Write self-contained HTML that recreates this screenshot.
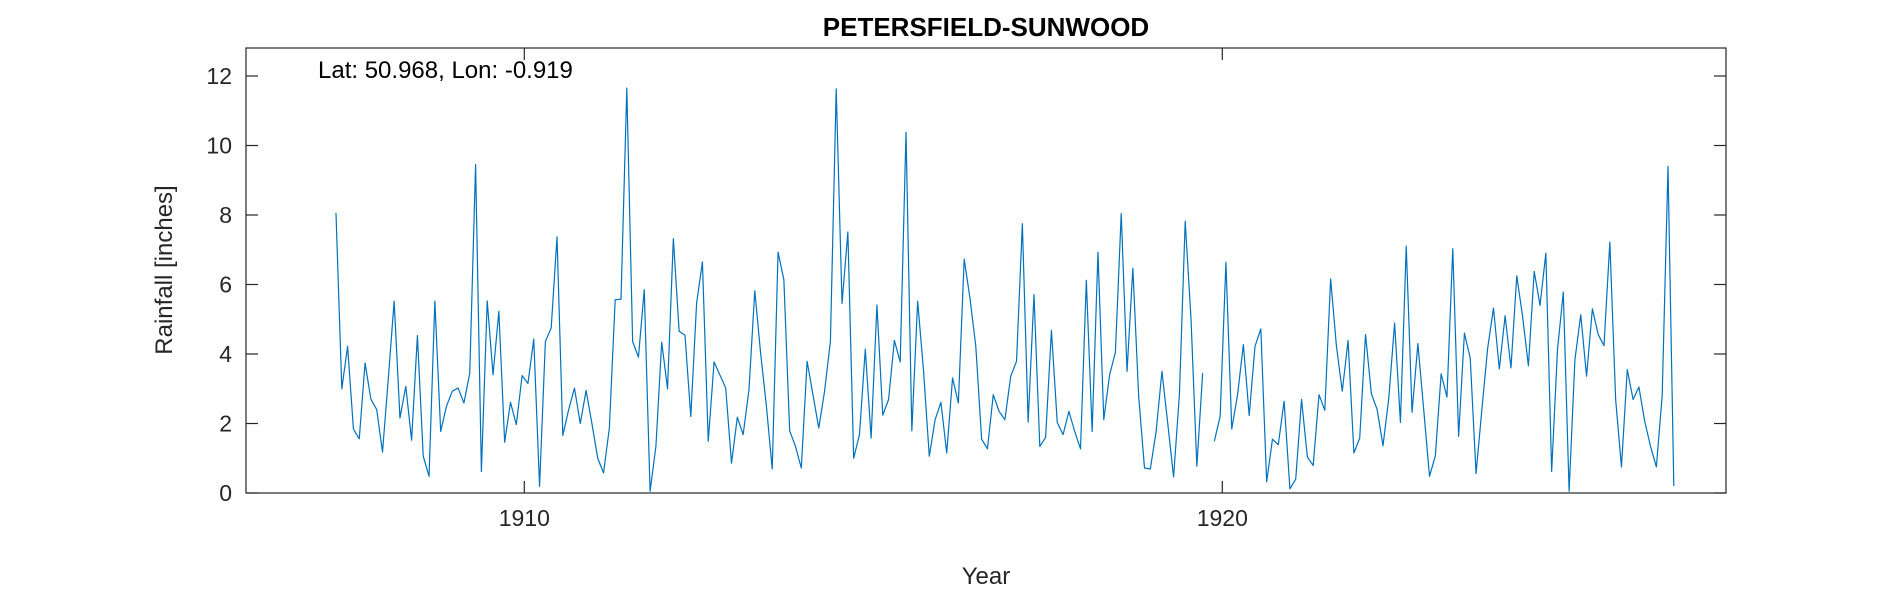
<!DOCTYPE html>
<html><head><meta charset="utf-8"><style>
html,body{margin:0;padding:0;background:#fff;}
svg{display:block;font-family:"Liberation Sans",Arial,sans-serif;}
</style></head><body>
<svg id="chart" width="1890" height="591" viewBox="0 0 1890 591">
<rect x="0" y="0" width="1890" height="591" fill="#fff"/>
<text x="986" y="36" text-anchor="middle" font-size="26" font-weight="bold" fill="#000">PETERSFIELD-SUNWOOD</text>
<text x="318" y="78" font-size="24" fill="#000">Lat: 50.968, Lon: -0.919</text>
<text transform="translate(172,270) rotate(-90)" text-anchor="middle" font-size="24" fill="#262626">Rainfall [inches]</text>
<text x="986" y="584" text-anchor="middle" font-size="24" fill="#262626">Year</text>
<g id="axes"></g>
<g id="series"></g>
</svg>
<script>
const yTicks=[0,2,4,6,8,10,12];
const xTicks=[1910,1920];
const xTickLabels=["1910","1920"];
const startYear=1907.302;
const rainfall=[
8.06,3.0,4.22,1.84,1.56,3.74,2.7,2.4,1.18,3.3,5.52,2.16,3.07,1.52,4.53,1.06,0.48,5.52,1.77,2.5,2.93,3.02,2.59,3.45,9.45,0.62,5.53,3.4,5.23,1.46,2.61,1.97,3.38,3.15,4.43,0.19,4.36,
4.75,7.37,1.66,2.4,3.02,2.0,2.95,2.0,1.0,0.58,1.87,5.56,5.58,11.65,4.36,3.91,5.85,0.05,1.34,4.34,3.0,7.32,4.65,4.54,2.2,5.47,6.65,1.49,3.77,3.4,3.02,0.86,2.18,1.68,2.97,5.82,4.03,
2.5,0.69,6.93,6.14,1.79,1.34,0.72,3.79,2.83,1.87,2.93,4.36,11.63,5.45,7.51,1.0,1.68,4.14,1.58,5.41,2.24,2.69,4.39,3.77,10.38,1.79,5.52,3.55,1.06,2.11,2.61,1.15,3.31,2.59,6.73,5.6,4.22,
1.55,1.27,2.83,2.35,2.11,3.36,3.79,7.75,2.04,5.71,1.34,1.6,4.68,2.03,1.68,2.35,1.77,1.27,6.12,1.77,6.93,2.11,3.4,4.05,8.04,3.5,6.47,2.78,0.72,0.69,1.77,3.5,2.0,0.46,2.83,7.82,5.0,
0.77,3.45,null,1.49,2.2,6.64,1.84,2.83,4.27,2.23,4.22,4.72,0.32,1.55,1.39,2.64,0.12,0.4,2.69,1.04,0.79,2.83,2.38,6.16,4.22,2.93,4.39,1.15,1.58,4.56,2.86,2.4,1.36,2.73,4.89,2.03,7.1,2.32,4.3,
2.4,0.48,1.07,3.43,2.76,7.03,1.63,4.6,3.88,0.56,2.4,4.17,5.32,3.57,5.1,3.6,6.25,5.08,3.66,6.38,5.4,6.9,0.62,4.12,5.78,0.05,3.84,5.13,3.36,5.3,4.56,4.24,7.22,2.69,0.75,3.55,2.69,3.05,2.06,1.34,
0.75,2.8,9.4,0.2
];
const L=246,R=1726,T=48,B=493;
function xScale(d){return 524.3+(d-1910)*69.8;}
function yScale(v){return B-v*34.75;}
const NS="http://www.w3.org/2000/svg";
const axes=document.getElementById('axes');
function mk(tag,attrs,parent){const e=document.createElementNS(NS,tag);for(const k in attrs)e.setAttribute(k,attrs[k]);parent.appendChild(e);return e;}
const box=mk('rect',{x:L,y:T,width:R-L,height:B-T,fill:'none',stroke:'#262626','stroke-width':1.2},axes);


yTicks.forEach(v=>{
  const y=yScale(v);
  const t1=mk('line',{x1:L,x2:L+12,y1:y,y2:y,stroke:'#262626','stroke-width':1.2},axes);
  
  
  const t2=mk('line',{x1:R-12,x2:R,y1:y,y2:y,stroke:'#262626','stroke-width':1.2},axes);
  
  
  const lb=mk('text',{x:L-14,y:y+8,'text-anchor':'end','font-size':23,fill:'#262626'},axes);
  lb.textContent=String(v);
  
  
});
xTicks.forEach((d,i)=>{
  const x=xScale(d);
  const t1=mk('line',{x1:x,x2:x,y1:B,y2:B-12,stroke:'#262626','stroke-width':1.2},axes);
  
  
  const t2=mk('line',{x1:x,x2:x,y1:T,y2:T+12,stroke:'#262626','stroke-width':1.2},axes);
  
  
  const lb=mk('text',{x:x,y:B+33,'text-anchor':'middle','font-size':23,fill:'#262626'},axes);
  lb.textContent=xTickLabels[i];
  
  
});
let d='',pen=false;
rainfall.forEach((v,i)=>{
  if(v===null){pen=false;return;}
  const x=xScale(startYear+i/12).toFixed(2),y=yScale(v).toFixed(2);
  d+=(pen?'L':'M')+x+' '+y+' ';pen=true;
});
const line=mk('path',{d:d,fill:'none',stroke:'#0072bd','stroke-width':1.2,'stroke-linejoin':'round'},document.getElementById('series'));


</script>
</body></html>
